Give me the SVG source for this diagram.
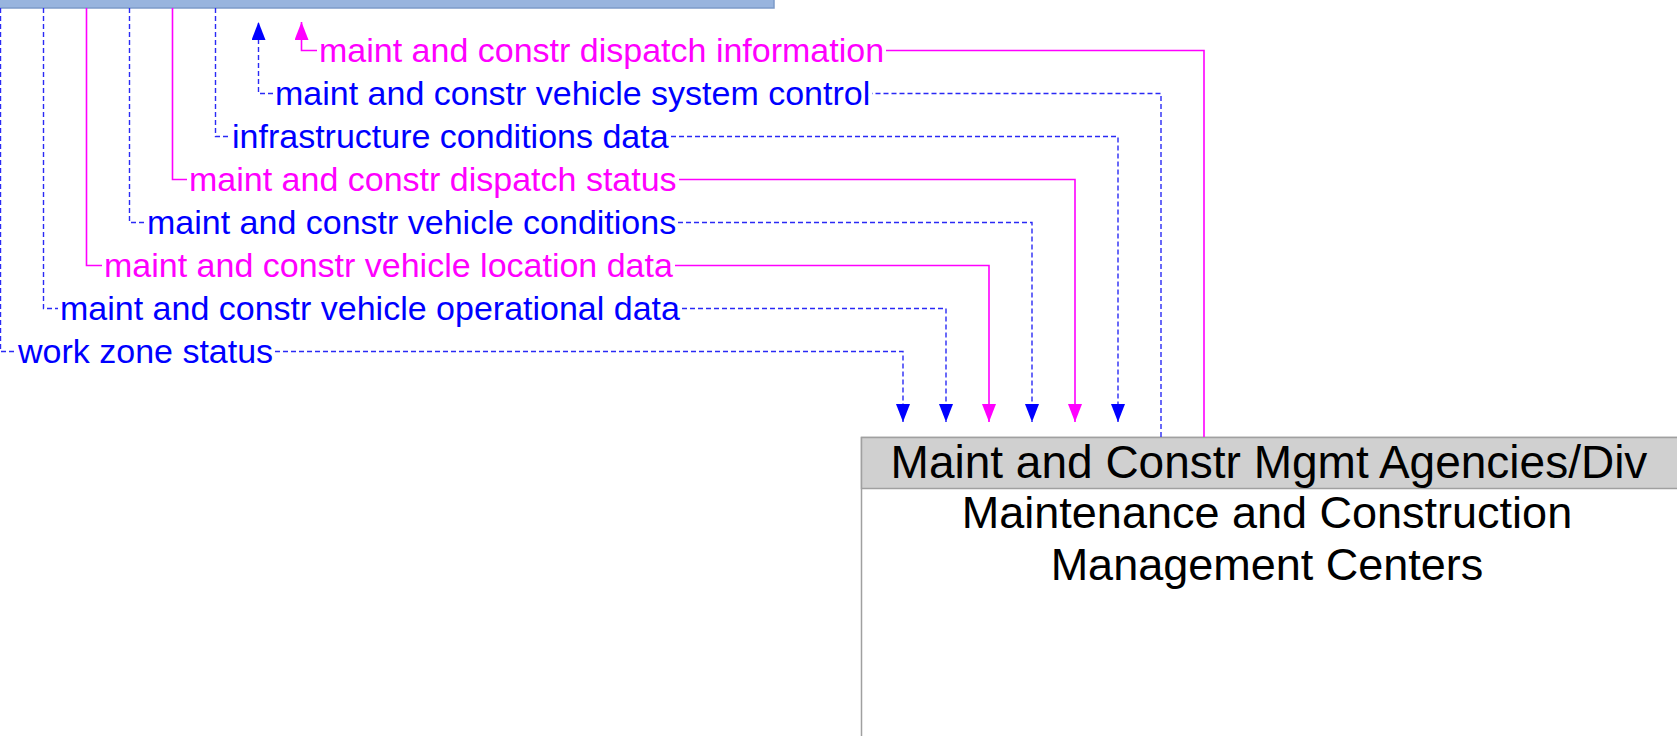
<svg xmlns="http://www.w3.org/2000/svg" width="1677" height="736" viewBox="0 0 1677 736">
<style>
.lbl{font-family:"Liberation Sans",Arial,sans-serif;font-size:34px}
.b{fill:#0000ff}
.p{fill:#ff00ff}
.lb{fill:none;stroke:#2a2af5;stroke-width:1.4;stroke-dasharray:5,3}
.lp{fill:none;stroke:#ff00ff;stroke-width:1.6}
.nt{font-family:"Liberation Sans",Arial,sans-serif;fill:#000;text-anchor:middle}
</style>
<defs>
<marker id="ab" markerWidth="18" markerHeight="14" refX="18" refY="7" orient="auto" markerUnits="userSpaceOnUse"><path d="M0,0 L18,7 L0,14 Z" fill="#0000ff"/></marker>
<marker id="ap" markerWidth="18" markerHeight="14" refX="18" refY="7" orient="auto" markerUnits="userSpaceOnUse"><path d="M0,0 L18,7 L0,14 Z" fill="#ff00ff"/></marker>
</defs>
<rect width="1677" height="736" fill="#fff"/>
<g id="node-top">
<rect x="-2" y="-10" width="776" height="18" fill="#98b4de" stroke="#7d9bc9" stroke-width="1.5"/>
</g>
<g id="node-mcmc">
<rect x="861.5" y="437.5" width="830" height="300" fill="#fff" stroke="#a0a0a0" stroke-width="1.5"/>
<rect x="861.5" y="437.5" width="830" height="51" fill="#d0d0d0" stroke="#a0a0a0" stroke-width="1.5"/>
<text class="nt" x="1269" y="478" font-size="46">Maint and Constr Mgmt Agencies/Div</text>
<text class="nt" x="1267" y="528" font-size="45">Maintenance and Construction</text>
<text class="nt" x="1267" y="580" font-size="45">Management Centers</text>
</g>
<g id="connectors">
<!-- work zone status -->
<path class="lb" d="M0.5,8 V351.5 H16"/>
<path class="lb" d="M275,351.5 H903 V422" marker-end="url(#ab)"/>
<text class="lbl b" x="18" y="362.5">work zone status</text>
<!-- operational data -->
<path class="lb" d="M43.5,8 V308.5 H58"/>
<path class="lb" d="M682,308.5 H946 V422" marker-end="url(#ab)"/>
<text class="lbl b" x="60" y="319.5">maint and constr vehicle operational data</text>
<!-- location data -->
<path class="lp" d="M86.5,8 V265.5 H102"/>
<path class="lp" d="M675,265.5 H989 V422" marker-end="url(#ap)"/>
<text class="lbl p" x="104" y="276.5">maint and constr vehicle location data</text>
<!-- vehicle conditions -->
<path class="lb" d="M129.5,8 V222.5 H145"/>
<path class="lb" d="M678,222.5 H1032 V422" marker-end="url(#ab)"/>
<text class="lbl b" x="147" y="233.5">maint and constr vehicle conditions</text>
<!-- dispatch status -->
<path class="lp" d="M172.5,8 V179.5 H187"/>
<path class="lp" d="M679,179.5 H1075 V422" marker-end="url(#ap)"/>
<text class="lbl p" x="189" y="190.5">maint and constr dispatch status</text>
<!-- infrastructure conditions data -->
<path class="lb" d="M215.5,8 V136.5 H230"/>
<path class="lb" d="M671,136.5 H1118 V422" marker-end="url(#ab)"/>
<text class="lbl b" x="232" y="147.5">infrastructure conditions data</text>
<!-- vehicle system control -->
<path class="lb" d="M1161,437 V93.5 H872"/>
<path class="lb" d="M273,93.5 H258.5 V22" marker-end="url(#ab)"/>
<text class="lbl b" x="275" y="104.5">maint and constr vehicle system control</text>
<!-- dispatch information -->
<path class="lp" d="M1204,437 V50.5 H886"/>
<path class="lp" d="M317,50.5 H301.5 V22" marker-end="url(#ap)"/>
<text class="lbl p" x="319" y="61.5">maint and constr dispatch information</text>
</g>
</svg>
